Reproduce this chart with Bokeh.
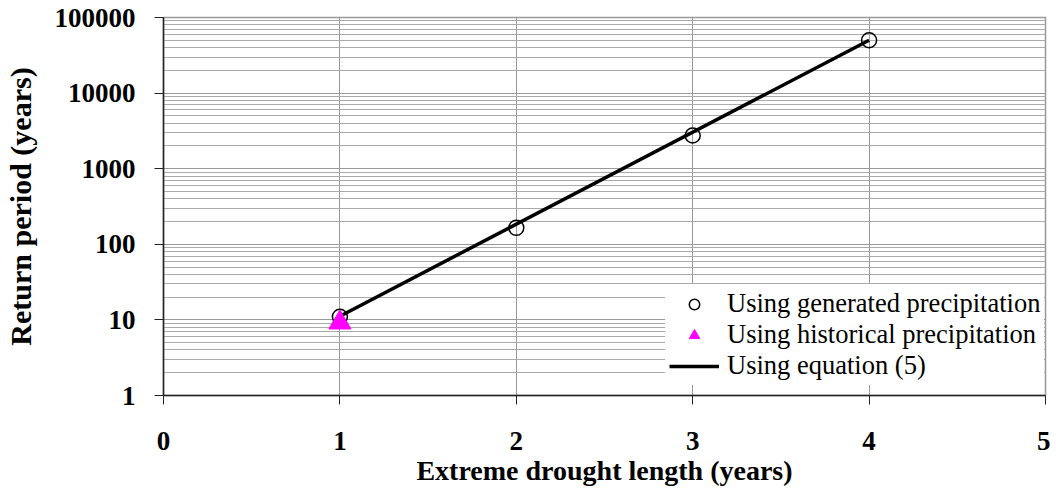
from bokeh.plotting import figure
from bokeh.models import FixedTicker, Legend, LegendItem, Range1d
from bokeh.embed import file_html
from bokeh.resources import INLINE

# Data
drought_length = [1, 2, 3, 4]
generated_rp = [11, 165, 2750, 50000]
hist_length = [1]
hist_rp = [9.2]
eq_length = [1, 4]
eq_rp = [11.2, 50000]

x_ticks = [0, 1, 2, 3, 4, 5]
y_ticks = [1, 10, 100, 1000, 10000, 100000]
y_labels = ["1", "10", "100", "1000", "10000", "100000"]

FONT = "Liberation Serif"

p = figure(width=1050, height=488, y_axis_type="log",
           x_range=Range1d(0, 5), y_range=Range1d(1, 100000),
           output_backend="svg", toolbar_location=None,
           min_border_left=160, min_border_right=5, min_border_top=17, min_border_bottom=93)

minor = []
for d in y_ticks[:-1]:
    for m in range(2, 10):
        minor.append(d * m)

p.yaxis.ticker = FixedTicker(ticks=y_ticks, minor_ticks=minor)
p.xaxis.ticker = FixedTicker(ticks=x_ticks)
p.yaxis.major_label_overrides = {t: l for t, l in zip(y_ticks, y_labels)}

for ax in (p.xaxis, p.yaxis):
    ax.major_label_text_font = FONT
    ax.major_label_text_font_style = "bold"
    ax.major_label_text_font_size = "27px"
    ax.major_label_text_color = "black"
    ax.axis_label_text_font = FONT
    ax.axis_label_text_font_style = "bold"
    ax.axis_label_text_color = "black"
    ax.axis_line_color = "#222222"
    ax.axis_line_width = 1.5
    ax.major_tick_line_color = "#222222"
    ax.major_tick_out = 9
    ax.major_tick_in = 0
    ax.minor_tick_out = 0
    ax.minor_tick_in = 0

p.xaxis.axis_label = "Extreme drought length (years)"
p.yaxis.axis_label = "Return period (years)"
p.xaxis.axis_label_text_font_size = "28px"
p.yaxis.axis_label_text_font_size = "30px"
p.xaxis.major_label_standoff = 27
p.yaxis.major_label_standoff = 19
p.xaxis.axis_label_standoff = 2
p.yaxis.axis_label_standoff = 15

p.xgrid.ticker = FixedTicker(ticks=[1, 2, 3, 4])
p.xgrid.grid_line_color = "#999999"
p.xgrid.grid_line_width = 1
p.ygrid.grid_line_color = "#999999"
p.ygrid.minor_grid_line_color = "#aaaaaa"
p.ygrid.grid_line_width = 1

p.outline_line_color = "#999999"
p.outline_line_width = 1.5

eq = p.line(eq_length, eq_rp, line_color="black", line_width=3.5)
gen = p.scatter(drought_length, generated_rp, marker="circle", size=15,
                fill_color=None, line_color="black", line_width=1.5)
hist = p.scatter(hist_length, hist_rp, marker="triangle", size=22,
                 fill_color="magenta", line_color="magenta")

legend = Legend(items=[
    LegendItem(label="Using generated precipitation", renderers=[gen]),
    LegendItem(label="Using historical precipitation", renderers=[hist]),
    LegendItem(label="Using equation (5)", renderers=[eq]),
], location=(502, 10))
legend.label_text_font = FONT
legend.label_text_font_size = "26.5px"
legend.label_text_line_height = 1.0
legend.label_text_color = "black"
legend.border_line_alpha = 0
legend.background_fill_color = "white"
legend.background_fill_alpha = 1
legend.glyph_width = 50
legend.glyph_height = 26
legend.label_height = 26
legend.label_standoff = 8
legend.spacing = 0
legend.padding = 4
legend.margin = 0
p.add_layout(legend, "center")

open("out.html", "w").write(file_html(p, INLINE))
